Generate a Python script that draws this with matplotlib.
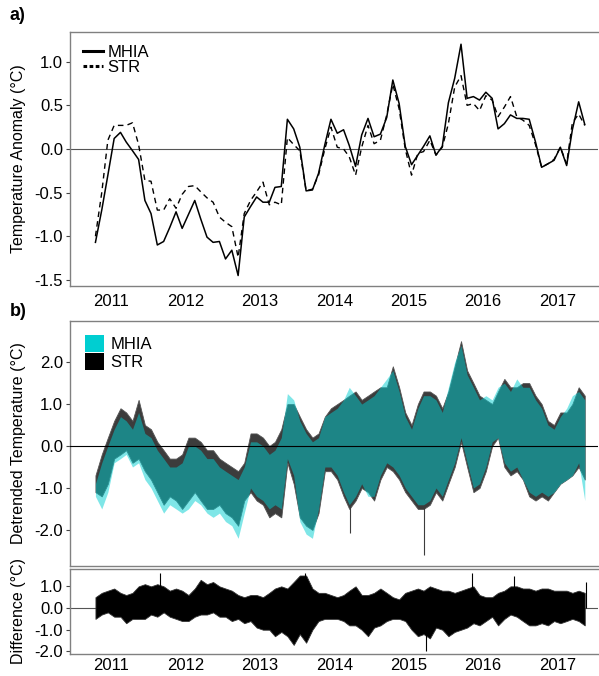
import matplotlib
matplotlib.use("Agg")
import matplotlib.pyplot as plt
from matplotlib.lines import Line2D
from matplotlib.patches import Patch
import pandas as pd

plt.rcParams['font.family'] = ['Liberation Sans', 'DejaVu Sans']

# monthly anomaly series (panel a), Oct 2010 .. May 2017
months = pd.date_range('2010-10-01', periods=80, freq='MS') + pd.Timedelta(days=14)

mhia_anom = [-1.07, -0.70, -0.30, 0.12, 0.19, 0.08, -0.02, -0.12, -0.59, -0.74,
             -1.10, -1.06, -0.90, -0.72, -0.91, -0.75, -0.59, -0.80, -1.01, -1.07,
             -1.06, -1.26, -1.16, -1.45, -0.78, -0.66, -0.55, -0.61, -0.61, -0.44,
             -0.43, 0.34, 0.23, 0.02, -0.48, -0.47, -0.28, 0.05, 0.34, 0.18,
             0.22, 0.04, -0.20, 0.16, 0.35, 0.14, 0.17, 0.36, 0.79, 0.52,
             0.03, -0.18, -0.07, 0.03, 0.15, -0.07, 0.03, 0.53, 0.81, 1.20,
             0.58, 0.60, 0.56, 0.65, 0.58, 0.23, 0.29, 0.39, 0.35, 0.35,
             0.34, 0.08, -0.21, -0.17, -0.13, 0.02, -0.19, 0.22, 0.54, 0.28]
str_anom = [-1.00, -0.50, 0.10, 0.27, 0.27, 0.27, 0.30, 0.05, -0.36, -0.37,
            -0.70, -0.70, -0.57, -0.68, -0.52, -0.43, -0.42, -0.49, -0.56, -0.61,
            -0.78, -0.84, -0.89, -1.24, -0.74, -0.59, -0.49, -0.38, -0.64, -0.61,
            -0.64, 0.13, 0.05, -0.02, -0.48, -0.46, -0.30, 0.00, 0.25, 0.02,
            0.00, -0.09, -0.30, 0.02, 0.27, 0.06, 0.10, 0.39, 0.74, 0.46,
            0.00, -0.30, -0.05, -0.03, 0.10, -0.07, 0.02, 0.29, 0.71, 0.84,
            0.50, 0.52, 0.44, 0.61, 0.56, 0.37, 0.48, 0.60, 0.37, 0.33,
            0.27, 0.05, -0.21, -0.17, -0.12, 0.02, -0.17, 0.30, 0.40, 0.27]

# detrended temperature envelopes (panel b), monthly max / min
str_hi = [-0.7, -0.2, 0.2, 0.6, 0.9, 0.8, 0.6, 1.1, 0.5, 0.4,
          0.1, -0.1, -0.3, -0.3, -0.2, 0.2, 0.2, 0.1, -0.1, -0.1,
          -0.3, -0.4, -0.5, -0.6, -0.4, 0.3, 0.3, 0.2, 0.0, 0.1,
          0.4, 1.0, 1.0, 0.7, 0.4, 0.2, 0.3, 0.7, 0.9, 1.0,
          1.1, 1.2, 1.3, 1.1, 1.2, 1.3, 1.4, 1.4, 1.9, 1.4,
          0.8, 0.5, 1.0, 1.3, 1.3, 1.2, 0.9, 1.3, 1.9, 2.5,
          1.8, 1.5, 1.2, 1.1, 1.0, 1.3, 1.6, 1.4, 1.4, 1.5,
          1.5, 1.2, 1.0, 0.6, 0.5, 0.8, 0.8, 1.0, 1.4, 1.2]
str_lo = [-1.1, -1.2, -0.9, -0.3, -0.2, -0.1, -0.4, -0.3, -0.6, -0.8,
          -1.1, -1.4, -1.2, -1.3, -1.5, -1.3, -1.1, -1.3, -1.5, -1.5,
          -1.4, -1.6, -1.7, -1.9, -1.3, -1.1, -1.3, -1.4, -1.7, -1.6,
          -1.7, -0.4, -0.9, -1.7, -1.9, -2.0, -1.6, -0.6, -0.6, -0.8,
          -1.2, -1.5, -1.3, -1.0, -1.1, -1.3, -0.8, -0.5, -0.6, -0.8,
          -1.1, -1.3, -1.5, -1.5, -1.4, -1.1, -1.3, -0.9, -0.5, 0.1,
          -0.5, -1.1, -1.0, -0.6, 0.0, 0.2, -0.5, -0.7, -0.6, -0.8,
          -1.2, -1.3, -1.2, -1.3, -1.1, -0.9, -0.8, -0.7, -0.5, -0.8]
mhia_hi = [-0.9, -0.4, 0.0, 0.4, 0.7, 0.6, 0.4, 0.8, 0.3, 0.2,
           -0.1, -0.3, -0.5, -0.5, -0.4, 0.0, 0.0, -0.1, -0.3, -0.3,
           -0.5, -0.6, -0.7, -0.8, -0.5, 0.1, 0.1, 0.0, -0.2, -0.1,
           0.2, 1.25, 1.1, 0.6, 0.3, 0.1, 0.2, 0.7, 0.8, 0.9,
           1.1, 1.4, 1.2, 1.0, 1.1, 1.2, 1.4, 1.6, 1.8, 1.3,
           0.7, 0.4, 0.9, 1.2, 1.2, 1.1, 0.8, 1.4, 2.0, 2.4,
           1.7, 1.4, 1.1, 1.2, 1.1, 1.4, 1.5, 1.3, 1.6, 1.4,
           1.4, 1.1, 0.9, 0.5, 0.4, 0.7, 0.9, 1.2, 1.3, 1.1]
mhia_lo = [-1.2, -1.5, -1.1, -0.4, -0.3, -0.2, -0.5, -0.4, -0.8, -1.0,
           -1.3, -1.6, -1.4, -1.5, -1.6, -1.5, -1.3, -1.4, -1.6, -1.7,
           -1.6, -1.8, -1.9, -2.2, -1.6, -1.0, -1.2, -1.3, -1.5, -1.4,
           -1.5, -0.3, -0.7, -1.8, -2.1, -2.2, -1.5, -0.5, -0.5, -0.7,
           -1.1, -1.4, -1.2, -0.9, -1.2, -1.2, -0.7, -0.4, -0.5, -0.7,
           -1.0, -1.2, -1.4, -1.4, -1.3, -1.0, -1.2, -0.8, -0.4, 0.2,
           -0.4, -1.0, -0.9, -0.5, 0.1, 0.2, -0.4, -0.6, -0.5, -0.8,
           -1.1, -1.2, -1.1, -1.2, -1.1, -0.9, -0.8, -0.7, -0.4, -1.3]

# difference envelope (panel c)
diff_hi = [0.5, 0.7, 0.8, 0.9, 0.7, 0.6, 0.7, 1.0, 1.1, 1.0,
           1.1, 1.0, 0.8, 0.9, 0.8, 0.6, 0.9, 1.3, 1.1, 1.2,
           1.0, 0.9, 0.8, 0.6, 0.5, 0.6, 0.6, 0.5, 0.7, 0.9,
           1.0, 0.9, 1.2, 1.5, 1.5, 0.9, 0.7, 0.7, 0.6, 0.5,
           0.6, 0.8, 1.0, 0.6, 0.6, 0.7, 0.9, 0.7, 0.5, 0.4,
           0.7, 0.8, 0.9, 0.8, 1.0, 0.9, 0.8, 0.8, 0.7, 0.8,
           0.9, 1.0, 0.6, 0.5, 0.5, 0.7, 0.8, 1.0, 1.0, 0.9,
           0.9, 0.8, 0.9, 0.9, 0.8, 0.8, 0.8, 0.7, 0.8, 0.7]
diff_lo = [-0.5, -0.3, -0.2, -0.4, -0.4, -0.7, -0.5, -0.5, -0.5, -0.3,
           -0.4, -0.2, -0.4, -0.5, -0.6, -0.6, -0.4, -0.3, -0.3, -0.2,
           -0.4, -0.4, -0.6, -0.5, -0.7, -0.6, -0.9, -1.0, -1.0, -1.3,
           -1.1, -1.3, -1.7, -1.2, -1.6, -1.0, -0.6, -0.5, -0.5, -0.5,
           -0.6, -0.8, -0.8, -1.0, -1.3, -0.9, -0.8, -0.6, -0.5, -0.5,
           -0.6, -1.0, -1.3, -1.2, -1.4, -0.9, -1.0, -1.3, -1.1, -1.0,
           -0.9, -0.7, -0.8, -0.6, -0.4, -0.8, -0.5, -0.3, -0.4, -0.6,
           -0.8, -0.8, -0.7, -0.8, -0.6, -0.7, -0.6, -0.5, -0.6, -0.8]

# single-day spikes that stand out of the envelopes
b_spike_dates = pd.to_datetime(['2014-03-20', '2015-03-17'])
b_spike_lo = [-2.07, -2.6]
c_spike_dates = pd.to_datetime(['2011-08-28', '2013-08-08', '2015-03-25',
                                '2015-11-06', '2016-05-30', '2017-05-20'])
c_spike_val = [1.6, 1.6, -2.0, 1.6, 1.5, 1.2]

years = [2011, 2012, 2013, 2014, 2015, 2016, 2017]
year_ticks = pd.to_datetime([f'{y}-01-01' for y in years])
xlim = (pd.Timestamp('2010-06-12'), pd.Timestamp('2017-07-19'))

cyan = '#00CED1'
dark = '#3c3c3c'
spine_col = '#808080'

fig = plt.figure(figsize=(5.99, 6.76), dpi=100)
W, H = 599.0, 676.0


def make_axes(top, bottom):
    return fig.add_axes([70 / W, 1 - bottom / H, 528 / W, (bottom - top) / H])


def style(ax, ylim, yticks, ylabel, show_x):
    ax.set_xlim(*xlim)
    ax.set_ylim(*ylim)
    ax.set_yticks(yticks)
    ax.set_yticklabels([f'{t:.1f}' for t in yticks])
    ax.set_xticks(year_ticks)
    if show_x:
        ax.set_xticklabels([str(y) for y in years])
    else:
        ax.set_xticklabels([])
    ax.tick_params(axis='x', length=0, pad=6, labelsize=12)
    ax.tick_params(axis='y', length=3, width=0.8, color='#444444', pad=2, labelsize=12)
    ax.spines['right'].set_visible(False)
    for s in ('top', 'bottom', 'left'):
        ax.spines[s].set_color(spine_col)
        ax.spines[s].set_linewidth(1.0)
    ax.set_ylabel(ylabel, fontsize=11.5)
    ax.yaxis.set_label_coords(-44 / 528, 0.5)


# ---- panel a
ax1 = make_axes(32, 286)
ax1.axhline(0, color='#555555', lw=0.8, zorder=1)
ax1.plot(months, mhia_anom, color='black', lw=1.1, zorder=3)
ax1.plot(months, str_anom, color='black', lw=1.0, dashes=(4, 3), zorder=2)
style(ax1, (-1.57, 1.34), [-1.5, -1.0, -0.5, 0.0, 0.5, 1.0],
      'Temperature Anomaly (°C)', True)
handles_a = [Line2D([], [], color='black', lw=2.2),
             Line2D([], [], color='black', lw=2.2, dashes=(1.2, 0.8))]
ax1.legend(handles_a, ['MHIA', 'STR'], loc='upper left', frameon=False,
           fontsize=12, handlelength=1.2, handletextpad=0.3,
           labelspacing=0.0, borderaxespad=0.2, bbox_to_anchor=(0.005, 0.99))

# ---- panel b
ax2 = make_axes(321, 566)
ax2.fill_between(months, str_lo, str_hi, color=dark, lw=0.6, edgecolor='#555555', zorder=2)
ax2.vlines(b_spike_dates, 0, b_spike_lo, color=dark, lw=0.8, zorder=2)
ax2.fill_between(months, mhia_lo, mhia_hi, color=cyan, alpha=0.5, lw=0, zorder=3)
ax2.axhline(0, color='black', lw=0.8, zorder=4)
style(ax2, (-2.86, 2.98), [-2.0, -1.0, 0.0, 1.0, 2.0],
      'Detrended Temperature (°C)', False)
handles_b = [Patch(facecolor=cyan, edgecolor='none'),
             Patch(facecolor='black', edgecolor='none')]
ax2.legend(handles_b, ['MHIA', 'STR'], loc='upper left', frameon=False,
           fontsize=12, handlelength=1.1, handleheight=1.2, handletextpad=0.4,
           labelspacing=0.05, borderaxespad=0.2, bbox_to_anchor=(0.01, 0.985))

# ---- panel c
ax3 = make_axes(569, 654)
ax3.axhline(0, color='#555555', lw=0.8, zorder=1)
ax3.fill_between(months, diff_lo, diff_hi, color='black', lw=0.6, edgecolor='#333333', zorder=2)
ax3.vlines(c_spike_dates, 0, c_spike_val, color='black', lw=0.8, zorder=2)
style(ax3, (-2.12, 1.8), [-2.0, -1.0, 0.0, 1.0], 'Difference (°C)', True)
ax3.tick_params(axis='x', pad=3)

fig.text(10 / W, 1 - 15 / H, 'a)', fontsize=13, fontweight='bold', va='center')
fig.text(10 / W, 1 - 311 / H, 'b)', fontsize=13, fontweight='bold', va='center')

fig.savefig('out.png', dpi=100)
